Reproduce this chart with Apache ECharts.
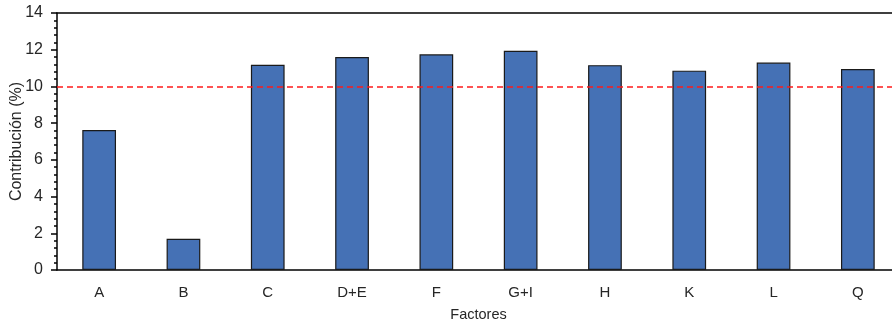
<!DOCTYPE html>
<html>
<head>
<meta charset="utf-8">
<script src="https://cdn.jsdelivr.net/npm/echarts@6/dist/echarts.min.js"></script>
<style>
html,body{margin:0;padding:0;background:#fff;overflow:hidden;}
#c{width:900px;height:326px;}
</style>
</head>
<body>
<div id="c"></div>
<script>
const categories = ['A','B','C','D+E','F','G+I','H','K','L','Q'];
const contribution = [7.62, 1.7, 11.18, 11.6, 11.75, 11.94, 11.16, 10.86, 11.3, 10.95];
const threshold = 10;
const yTicks = [0, 2, 4, 6, 8, 10, 12, 14];

const FONT = '"Liberation Sans", Arial, sans-serif';
const chart = echarts.init(document.getElementById('c'), null, {renderer: 'canvas'});
chart.setOption({
  animation: false,
  grid: {left: 57, top: 13, bottom: 56, right: 0, containLabel: false, outerBoundsMode: 'none'},
  xAxis: [{
    type: 'category',
    data: categories,
    position: 'bottom',
    name: 'Factores',
    nameLocation: 'middle',
    nameGap: 37,
    nameMoveOverlap: false,
    nameTextStyle: {fontFamily: FONT, fontSize: 14.5, color: '#262626'},
    axisLine: {lineStyle: {color: '#000', width: 1.5}},
    axisTick: {show: false},
    axisLabel: {fontFamily: FONT, fontSize: 15, color: '#262626', margin: 15}
  }, {
    type: 'category',
    data: categories,
    position: 'top',
    axisLine: {lineStyle: {color: '#000', width: 1.5}},
    axisTick: {show: false},
    axisLabel: {show: false}
  }],
  yAxis: {
    type: 'value',
    min: yTicks[0],
    max: yTicks[yTicks.length - 1],
    interval: 2,
    name: 'Contribución (%)',
    nameLocation: 'middle',
    nameGap: 32,
    nameMoveOverlap: false,
    nameTextStyle: {fontFamily: FONT, fontSize: 16, color: '#262626'},
    axisLine: {show: true, lineStyle: {color: '#000', width: 1.5}},
    axisTick: {show: true, inside: false, length: 6, lineStyle: {color: '#000', width: 1.5}},
    minorTick: {show: true, splitNumber: 5, length: 3, lineStyle: {color: '#000', width: 1.5}},
    splitLine: {show: false},
    axisLabel: {fontFamily: FONT, fontSize: 16, color: '#262626', margin: 14}
  },
  series: [{
    type: 'bar',
    data: contribution,
    barWidth: '40%',
    itemStyle: {color: '#4571B5', borderColor: '#1a1a1a', borderWidth: 1.2},
    markLine: {
      silent: true,
      symbol: ['none', 'none'],
      label: {show: false},
      lineStyle: {color: '#ff1a1a', type: [6, 4], width: 1.5},
      data: [{yAxis: threshold}]
    }
  }]
});
</script>
</body>
</html>
